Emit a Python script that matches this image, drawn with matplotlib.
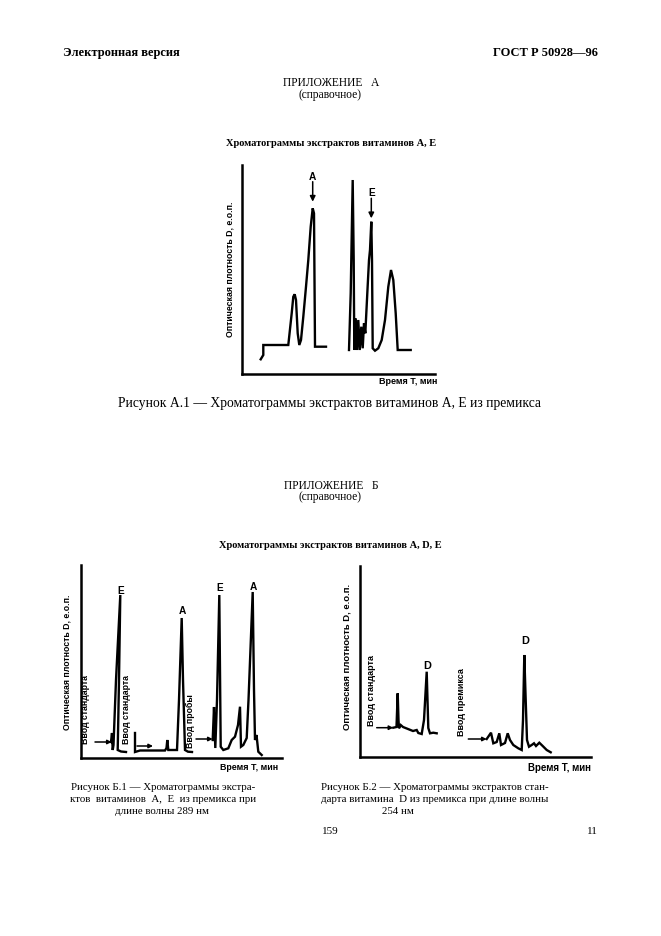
import matplotlib
matplotlib.use('Agg')
import matplotlib.pyplot as plt

W_PX, H_PX = 661, 936

# Figure A.1 - chromatogram of vitamins A, E (time offset, optical density)
a1_time = [18.7, 21.3, 21.3, 46.3, 49.7, 51.3, 52.7, 54.0, 55.7, 57.3, 59.0, 61.3,
           64.0, 66.3, 68.7, 70.7, 72.0, 73.0, 84.0]
a1_dens = [14.7, 19.0, 29.0, 29.0, 60.7, 77.3, 79.7, 74.0, 40.7, 29.0, 34.0, 57.3,
           87.3, 114.0, 147.3, 165.7, 160.7, 27.3, 27.3]
a2_time = [107.0, 108.7, 110.7, 111.7, 112.3, 113.7, 115.0, 116.3, 117.7, 119.3, 120.7,
           122.0, 123.3, 125.3, 127.0, 128.0, 129.3, 130.0, 130.7, 133.0, 136.3, 139.7,
           143.0, 146.3, 149.0, 151.3, 153.7, 155.7, 168.7]
a2_dens = [24.0, 80.7, 194.0, 114.0, 24.0, 55.7, 24.0, 54.0, 24.0, 47.3, 25.7,
           50.7, 40.7, 80.7, 114.0, 124.0, 152.3, 114.0, 25.7, 23.3, 25.7, 34.0,
           54.0, 87.3, 104.0, 94.0, 60.7, 24.0, 24.0]
a_peaks = ['A', 'E']
a_peak_time = [70.7, 129.3]
a_peak_top = [172.3, 155.7]

# Figure B.1 - vitamins A, E at 289 nm
b1_time_std1 = [30.0, 31.0, 31.7, 32.5, 35.0, 39.3, 38.0, 36.7, 40.0, 45.0]
b1_dens_std1 = [16.0, 25.0, 8.0, 13.0, 78.0, 163.0, 78.0, 8.0, 6.5, 6.0]
b1_time_std2 = [54.0, 54.0, 59.0, 84.0, 85.5, 86.3, 87.3, 96.0, 98.0, 100.7, 102.0,
                104.0, 107.0, 111.0]
b1_dens_std2 = [25.0, 6.0, 7.5, 7.5, 10.0, 18.0, 8.0, 8.0, 58.0, 140.0, 78.0,
                8.0, 6.3, 6.0]
b1_time_smp = [131.7, 133.0, 134.3, 136.0, 138.3, 139.7, 142.3, 147.3, 150.7, 154.0,
               157.0, 159.0, 160.0, 162.3, 165.7, 167.5, 171.7, 173.0, 174.0, 175.5,
               177.3, 180.7]
b1_dens_smp = [18.0, 51.0, 10.0, 58.0, 163.0, 11.3, 8.0, 9.7, 18.0, 21.3,
               33.0, 51.3, 11.3, 13.0, 20.0, 58.0, 166.0, 68.0, 18.0, 23.0,
               6.3, 3.0]
b1_peaks = ['E', 'A', 'E', 'A']
b1_peak_time = [40.0, 101.5, 138.3, 172.3]
b1_peak_lab = [167.0, 147.0, 170.0, 171.0]
b1_inputs = ['Ввод стандарта', 'Ввод стандарта', 'Ввод пробы']
b1_input_time = [4.0, 46.0, 109.0]
b1_input_lab = [48.0, 48.0, 37.0]
b1_arrow_from = [(14.0, 16.0), (56.0, 12.0), (115.0, 19.0)]
b1_arrow_to = [(30.7, 16.0), (72.0, 12.0), (131.7, 19.0)]

# Figure B.2 - vitamin D at 254 nm
b2_time_std = [33.3, 36.5, 37.7, 38.5, 39.0, 40.7, 43.0, 48.0, 53.0, 56.7, 58.3, 61.7,
               64.0, 66.7, 68.3, 70.0, 73.3, 76.7]
b2_dens_std = [29.3, 30.0, 63.7, 37.0, 28.7, 32.0, 30.0, 28.0, 26.0, 27.0, 24.0, 23.0,
               37.0, 85.3, 29.0, 23.7, 24.3, 23.7]
b2_time_mix = [126.7, 131.0, 133.3, 136.7, 139.3, 141.0, 145.0, 147.7, 150.0, 153.3,
               158.3, 161.7, 163.0, 164.3, 165.7, 167.0, 169.0, 171.7, 174.0, 176.0,
               179.3, 182.7, 186.7, 190.7]
b2_dens_mix = [18.0, 24.3, 13.7, 15.0, 23.7, 12.0, 14.0, 23.7, 17.0, 12.0,
               8.7, 7.0, 37.0, 102.0, 57.0, 17.0, 10.3, 12.0, 13.7, 11.0,
               14.3, 11.0, 7.0, 4.7]
b2_peaks = ['D', 'D']
b2_peak_time = [66.7, 165.5]
b2_peak_lab = [91.0, 116.0]
b2_inputs = ['Ввод стандарта', 'Ввод премикса']
b2_input_time = [11.7, 102.0]
b2_input_lab = [67.0, 55.0]
b2_arrow_from = [(16.7, 29.3), (108.3, 18.0)]
b2_arrow_to = [(33.3, 29.3), (126.7, 18.0)]

YLABEL = 'Оптическая плотность D, е.о.п.'
XLABEL = 'Время Т, мин'

plt.rcParams['font.family'] = ['Liberation Serif', 'DejaVu Serif']
SANS = ['Liberation Sans', 'DejaVu Sans']

fig = plt.figure(figsize=(6.61, 9.36), dpi=100)
fig.patch.set_facecolor('white')


def fx(x):
    return x / W_PX


def fy(y):
    return 1 - y / H_PX


def make_axes(left, top, right, bottom):
    ax = fig.add_axes([fx(left), fy(bottom), (right - left) / W_PX, (bottom - top) / H_PX])
    ax.set_xlim(0, right - left)
    ax.set_ylim(0, bottom - top)
    for s in ['top', 'right']:
        ax.spines[s].set_visible(False)
    for s in ['left', 'bottom']:
        ax.spines[s].set_linewidth(1.8)
    ax.set_xticks([])
    ax.set_yticks([])
    ax.patch.set_alpha(0)
    return ax


def trace(ax, t, d):
    ax.plot(t, d, color='black', lw=1.7, solid_joinstyle='miter', clip_on=False)


def arrow(ax, p0, p1, scale=6):
    ax.annotate('', xy=p1, xytext=p0,
                arrowprops=dict(arrowstyle='-|>', color='black', lw=1.1,
                                mutation_scale=scale, shrinkA=0, shrinkB=0))


def page_text(x, y, s, **kw):
    fig.text(fx(x), fy(y), s, va='center', **kw)


# page header and titles
page_text(63, 53, 'Электронная версия', ha='left', fontsize=9, fontweight='bold')
page_text(598, 53, 'ГОСТ Р 50928—96', ha='right', fontsize=9, fontweight='bold')
page_text(331, 83, 'ПРИЛОЖЕНИЕ   А', ha='center', fontsize=8.3)
page_text(330, 95, '(справочное)', ha='center', fontsize=8.3)
page_text(331, 144, 'Хроматограммы экстрактов витаминов А, Е', ha='center',
          fontsize=7.5, fontweight='bold')

# Figure A.1
ax_a = make_axes(242, 165, 435, 374)
trace(ax_a, a1_time, a1_dens)
trace(ax_a, a2_time, a2_dens)
for name, t, top in zip(a_peaks, a_peak_time, a_peak_top):
    ax_a.text(t, top + 25, name, ha='center', va='center', family=SANS,
              fontsize=7.3, fontweight='bold')
    arrow(ax_a, (t, top + 20), (t, top), scale=8)
page_text(230, 269, YLABEL, ha='center', rotation=90, family=SANS, fontsize=6.3,
          fontweight='bold')
page_text(437, 381, XLABEL, ha='right', family=SANS, fontsize=6.5, fontweight='bold')
page_text(330, 404, 'Рисунок А.1 — Хроматограммы экстрактов витаминов А, Е из премикса',
          ha='center', fontsize=9.8)

page_text(331, 486, 'ПРИЛОЖЕНИЕ   Б', ha='center', fontsize=8.3)
page_text(330, 497, '(справочное)', ha='center', fontsize=8.3)
page_text(330, 546, 'Хроматограммы экстрактов витаминов А, D, Е', ha='center',
          fontsize=7.5, fontweight='bold')

# Figure B.1
ax_b1 = make_axes(81, 565, 282, 758)
trace(ax_b1, b1_time_std1, b1_dens_std1)
trace(ax_b1, b1_time_std2, b1_dens_std2)
trace(ax_b1, b1_time_smp, b1_dens_smp)
for name, t, y in zip(b1_peaks, b1_peak_time, b1_peak_lab):
    ax_b1.text(t, y, name, ha='center', va='center', family=SANS, fontsize=7.3,
               fontweight='bold')
for name, t, y in zip(b1_inputs, b1_input_time, b1_input_lab):
    ax_b1.text(t, y, name, ha='center', va='center', rotation=90, family=SANS,
               fontsize=6.3, fontweight='bold')
for p0, p1 in zip(b1_arrow_from, b1_arrow_to):
    arrow(ax_b1, p0, p1)
page_text(67, 662, YLABEL, ha='center', rotation=90, family=SANS, fontsize=6.3,
          fontweight='bold')
page_text(278, 767, XLABEL, ha='right', family=SANS, fontsize=6.4, fontweight='bold')

# Figure B.2
ax_b2 = make_axes(360, 566, 591, 757)
trace(ax_b2, b2_time_std, b2_dens_std)
trace(ax_b2, b2_time_mix, b2_dens_mix)
for name, t, y in zip(b2_peaks, b2_peak_time, b2_peak_lab):
    ax_b2.text(t, y, name, ha='center', va='center', family=SANS, fontsize=7.8,
               fontweight='bold')
for name, t, y in zip(b2_inputs, b2_input_time, b2_input_lab):
    ax_b2.text(t, y, name, ha='center', va='center', rotation=90, family=SANS,
               fontsize=6.5, fontweight='bold')
for p0, p1 in zip(b2_arrow_from, b2_arrow_to):
    arrow(ax_b2, p0, p1)
page_text(347, 657, YLABEL, ha='center', rotation=90, family=SANS, fontsize=6.8,
          fontweight='bold')
page_text(591, 768, XLABEL, ha='right', family=SANS, fontsize=7.0, fontweight='bold')

# captions
page_text(163, 787, 'Рисунок Б.1 — Хроматограммы экстра-', ha='center', fontsize=7.8)
page_text(163, 799, 'ктов  витаминов  А,  Е  из премикса при', ha='center', fontsize=7.8)
page_text(162, 811, 'длине волны 289 нм', ha='center', fontsize=7.8)
page_text(435, 787, 'Рисунок Б.2 — Хроматограммы экстрактов стан-', ha='center', fontsize=7.8)
page_text(435, 799, 'дарта витамина  D из премикса при длине волны', ha='center', fontsize=7.8)
page_text(398, 811, '254 нм', ha='center', fontsize=7.8)

page_text(330, 832, '159', ha='center', fontsize=8)
page_text(598, 832, '11', ha='right', fontsize=8)

fig.savefig('out.png', dpi=100)
plt.close(fig)
